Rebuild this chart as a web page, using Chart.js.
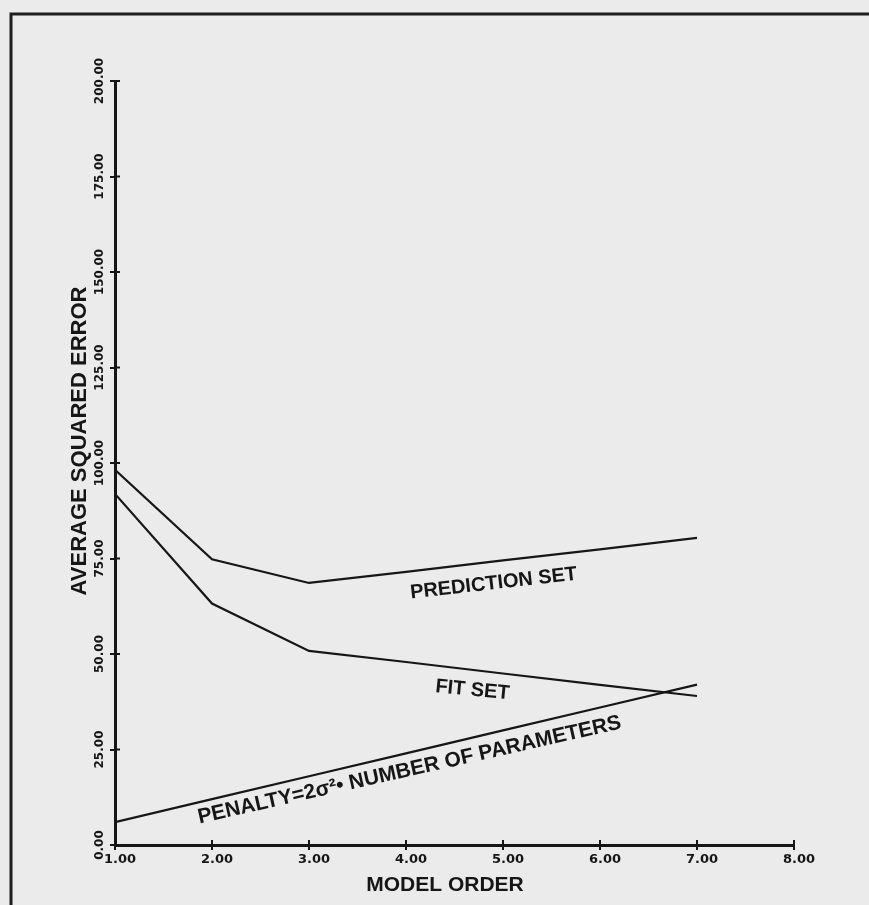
<!DOCTYPE html>
<html>
<head>
<meta charset="utf-8">
<script src="https://cdn.jsdelivr.net/npm/chart.js@4.4.1/dist/chart.umd.min.js"></script>
<style>
  html, body { margin: 0; padding: 0; background: #ebebeb; }
  #wrap { width: 869px; height: 905px; position: relative; }
</style>
</head>
<body>
<div id="wrap"><canvas id="errorchart"></canvas></div>
<script>
// x values (model order) of the three curves
const modelOrders = [1, 2, 3, 4, 5, 6, 7];
// average squared error
const predictionSet = [98.2, 74.8, 68.6, 71.5, 74.5, 77.4, 80.4];
const fitSet = [91.9, 63.2, 50.8, 47.9, 44.9, 41.9, 39.0];
const penalty = [6, 12, 18, 24, 30, 36, 42];
// tick values
const xTicks = [1, 2, 3, 4, 5, 6, 7, 8];
const yTicks = [0, 25, 50, 75, 100, 125, 150, 175, 200];
// texts
const xTitle = 'MODEL ORDER';
const yTitle = 'AVERAGE SQUARED ERROR';
const curveNames = ['PREDICTION SET', 'FIT SET', 'PENALTY=2\u03C3\u00B2\u2022 NUMBER OF PARAMETERS'];

const ink = '#161616';
const tickFont = (size) => ({family: '"DejaVu Sans"', weight: 'bold', size: size});

function toPoints(values){
    return modelOrders.map((order, i) => ({x: order, y: values[i]}));
}

function lineSet(label, values){
    return {
        label: label,
        data: toPoints(values),
        borderColor: ink,
        borderWidth: 2.2,
        pointRadius: 0,
        tension: 0,
        fill: false
    };
}

// background paper, frame, cross ticks, titles and curve names
const paperPlugin = {
    id: 'paper',
    beforeDraw(chart){
        const ctx = chart.ctx;
        ctx.save();
        ctx.fillStyle = '#ebebeb';
        ctx.fillRect(0, 0, chart.width, chart.height);
        ctx.strokeStyle = '#1e1e1e';
        ctx.lineWidth = 3;
        ctx.beginPath();
        ctx.moveTo(11, chart.height);
        ctx.lineTo(11, 14);
        ctx.lineTo(chart.width, 14);
        ctx.stroke();
        ctx.restore();
    },
    afterDraw(chart){
        const {ctx, chartArea} = chart;
        const xs = chart.scales.x, ys = chart.scales.y;
        ctx.save();
        ctx.strokeStyle = ink;
        ctx.lineWidth = 2;
        // inner half of each tick cross
        xs.ticks.forEach(t => {
            const px = xs.getPixelForValue(t.value);
            ctx.beginPath();
            ctx.moveTo(px, chartArea.bottom);
            ctx.lineTo(px, chartArea.bottom - 5);
            ctx.stroke();
        });
        ys.ticks.forEach(t => {
            const py = ys.getPixelForValue(t.value);
            ctx.beginPath();
            ctx.moveTo(chartArea.left, py);
            ctx.lineTo(chartArea.left + 5, py);
            ctx.stroke();
        });

        ctx.fillStyle = ink;
        ctx.textAlign = 'center';
        ctx.textBaseline = 'middle';
        ctx.font = 'bold 21px "Liberation Sans"';
        ctx.fillText(xTitle, chartArea.left + 330, chartArea.bottom + 40);
        ctx.save();
        ctx.translate(80, 441);
        ctx.rotate(-Math.PI / 2);
        ctx.font = 'bold 22px "Liberation Sans"';
        ctx.fillText(yTitle, 0, 0);
        ctx.restore();

        // curve names: anchor in data units, angle in degrees
        const places = [
            {x: 4.91, y: 67.0, angle: -6.5, size: 20},
            {x: 4.68, y: 39.1, angle: 5.5, size: 20},
            {x: 4.05, y: 18.1, angle: -12.7, size: 21}
        ];
        ctx.textBaseline = 'alphabetic';
        curveNames.forEach((name, i) => {
            const p = places[i];
            ctx.save();
            ctx.translate(xs.getPixelForValue(p.x), ys.getPixelForValue(p.y));
            ctx.rotate(p.angle * Math.PI / 180);
            ctx.font = 'bold ' + p.size + 'px "Liberation Sans"';
            ctx.fillText(name, 0, 0);
            ctx.restore();
        });
        ctx.restore();
    }
};

new Chart('errorchart', {
    type: 'line',
    data: {
        datasets: [
            lineSet('Prediction set', predictionSet),
            lineSet('Fit set', fitSet),
            lineSet('Penalty', penalty)
        ]
    },
    options: {
        responsive: true,
        maintainAspectRatio: false,
        animation: false,
        layout: { padding: {top: 81, right: 75, left: 0, bottom: 0} },
        plugins: {
            legend: { display: false },
            tooltip: { enabled: false }
        },
        scales: {
            x: {
                type: 'linear',
                min: 1,
                max: 8,
                afterFit: (s) => { s.height = 60; },
                afterBuildTicks: (s) => { s.ticks = xTicks.map(v => ({value: v})); },
                grid: { drawOnChartArea: false, drawTicks: true, tickLength: 5, color: ink, lineWidth: 2 },
                border: { display: true, color: ink, width: 3 },
                ticks: {
                    maxRotation: 0,
                    padding: 2,
                    labelOffset: 5,
                    color: ink,
                    font: tickFont(13),
                    callback: (v) => Number(v).toFixed(2)
                }
            },
            y: {
                type: 'linear',
                min: 0,
                max: 200,
                afterFit: (s) => { s.width = 115; },
                afterBuildTicks: (s) => { s.ticks = yTicks.map(v => ({value: v})); },
                grid: { drawOnChartArea: false, drawTicks: true, tickLength: 5, color: ink, lineWidth: 2 },
                border: { display: true, color: ink, width: 3 },
                ticks: {
                    minRotation: 90,
                    maxRotation: 90,
                    crossAlign: 'center',
                    padding: -13,
                    color: ink,
                    font: tickFont(12),
                    callback: (v) => Number(v).toFixed(2)
                }
            }
        }
    },
    plugins: [paperPlugin]
});
</script>
</body>
</html>
